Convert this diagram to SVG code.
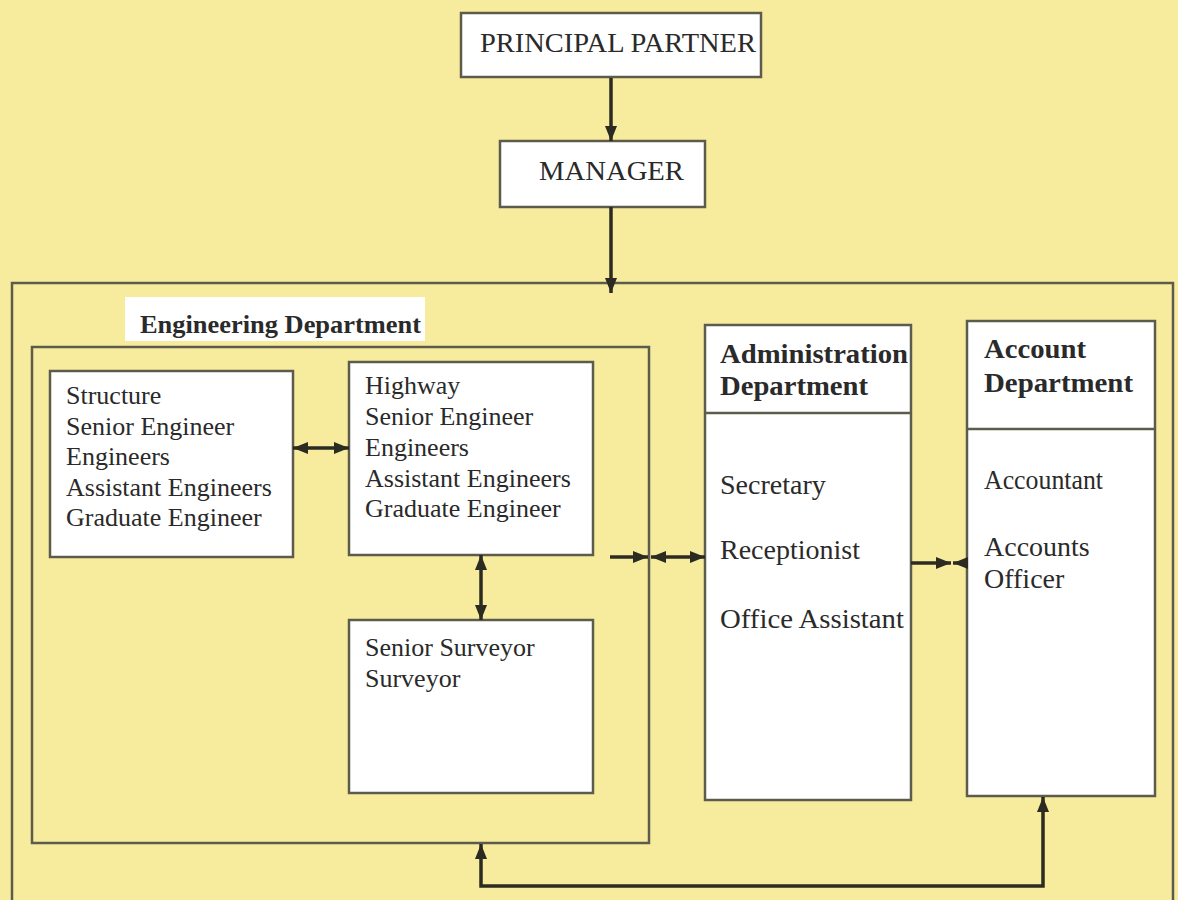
<svg xmlns="http://www.w3.org/2000/svg" width="1178" height="900" viewBox="0 0 1178 900">
<defs>
<style>
.box{fill:#ffffff;stroke:#5c5b4c;stroke-width:2.5}
.frame{fill:none;stroke:#5c5b4c;stroke-width:2.5}
.t{font-family:"Liberation Serif","Times New Roman",serif;fill:#2a2a2a}
.r26{font-size:26px}
.r28{font-size:28px}
.b{font-weight:bold}
.c{fill:none;stroke:#2b2b22;stroke-width:3.5}
</style>
<marker id="ah" markerUnits="userSpaceOnUse" markerWidth="15" markerHeight="12" refX="15" refY="6" orient="auto-start-reverse">
<path d="M0,0 L15,6 L0,12 z" fill="#2b2b22"/>
</marker>
</defs>
<rect x="0" y="0" width="1178" height="900" fill="#F7EB9E"/>

<g id="outer-frame">
<rect class="frame" x="12" y="283" width="1161" height="640"/>
</g>

<g id="principal-partner">
<rect class="box" x="461" y="13" width="300" height="64"/>
<text class="t r28" x="480" y="52" textLength="276" lengthAdjust="spacingAndGlyphs">PRINCIPAL PARTNER</text>
</g>

<g id="manager">
<rect class="box" x="500" y="141" width="205" height="66"/>
<text class="t r28" x="539" y="180" textLength="145" lengthAdjust="spacingAndGlyphs">MANAGER</text>
</g>

<g id="engineering-label">
<rect x="125" y="297" width="300" height="44" fill="#ffffff"/>
<text class="t b" font-size="26" x="140" y="333" textLength="281" lengthAdjust="spacingAndGlyphs">Engineering Department</text>
</g>

<g id="engineering-department">
<rect class="frame" x="32" y="347" width="617" height="496"/>
</g>

<g id="structure">
<rect class="box" x="50" y="371" width="243" height="186"/>
<text class="t r26" x="66" y="404">Structure</text>
<text class="t r26" x="66" y="435">Senior Engineer</text>
<text class="t r26" x="66" y="465">Engineers</text>
<text class="t r26" x="66" y="496">Assistant Engineers</text>
<text class="t r26" x="66" y="526">Graduate Engineer</text>
</g>

<g id="highway">
<rect class="box" x="349" y="362" width="244" height="193"/>
<text class="t r26" x="365" y="394">Highway</text>
<text class="t r26" x="365" y="425">Senior Engineer</text>
<text class="t r26" x="365" y="456">Engineers</text>
<text class="t r26" x="365" y="487">Assistant Engineers</text>
<text class="t r26" x="365" y="517">Graduate Engineer</text>
</g>

<g id="surveyor">
<rect class="box" x="349" y="620" width="244" height="173"/>
<text class="t r26" x="365" y="656">Senior Surveyor</text>
<text class="t r26" x="365" y="687">Surveyor</text>
</g>

<g id="administration-department">
<rect class="box" x="705" y="325" width="206" height="475"/>
<line x1="705" y1="413" x2="911" y2="413" stroke="#5c5b4c" stroke-width="2.5"/>
<text class="t b r28" x="720" y="363" textLength="188" lengthAdjust="spacingAndGlyphs">Administration</text>
<text class="t b r28" x="720" y="395" textLength="148" lengthAdjust="spacingAndGlyphs">Department</text>
<text class="t r28" x="720" y="494">Secretary</text>
<text class="t r28" x="720" y="559">Receptionist</text>
<text class="t r28" x="720" y="628" textLength="184" lengthAdjust="spacingAndGlyphs">Office Assistant</text>
</g>

<g id="account-department">
<rect class="box" x="967" y="321" width="188" height="475"/>
<line x1="967" y1="429" x2="1155" y2="429" stroke="#5c5b4c" stroke-width="2.5"/>
<text class="t b r28" x="984" y="358" textLength="102" lengthAdjust="spacingAndGlyphs">Account</text>
<text class="t b r28" x="984" y="392" textLength="149" lengthAdjust="spacingAndGlyphs">Department</text>
<text class="t r28" x="984" y="489" textLength="119" lengthAdjust="spacingAndGlyphs">Accountant</text>
<text class="t r28" x="984" y="556">Accounts</text>
<text class="t r28" x="984" y="588">Officer</text>
</g>

<g id="connectors">
<line class="c" x1="611" y1="78" x2="611" y2="141" marker-end="url(#ah)"/>
<line class="c" x1="611" y1="207" x2="611" y2="293" marker-end="url(#ah)"/>
<line class="c" x1="293" y1="448" x2="349" y2="448" marker-start="url(#ah)" marker-end="url(#ah)"/>
<line class="c" x1="481" y1="555" x2="481" y2="620" marker-start="url(#ah)" marker-end="url(#ah)"/>
<line class="c" x1="610" y1="557" x2="648" y2="557" marker-end="url(#ah)"/>
<line class="c" x1="651" y1="557" x2="705" y2="557" marker-start="url(#ah)" marker-end="url(#ah)"/>
<line class="c" x1="911" y1="563" x2="951" y2="563" marker-end="url(#ah)"/>
<line class="c" x1="967" y1="563" x2="953" y2="563" marker-end="url(#ah)"/>
<path class="c" d="M481,844 L481,886 L1043,886 L1043,797" marker-start="url(#ah)" marker-end="url(#ah)"/>
</g>
</svg>
